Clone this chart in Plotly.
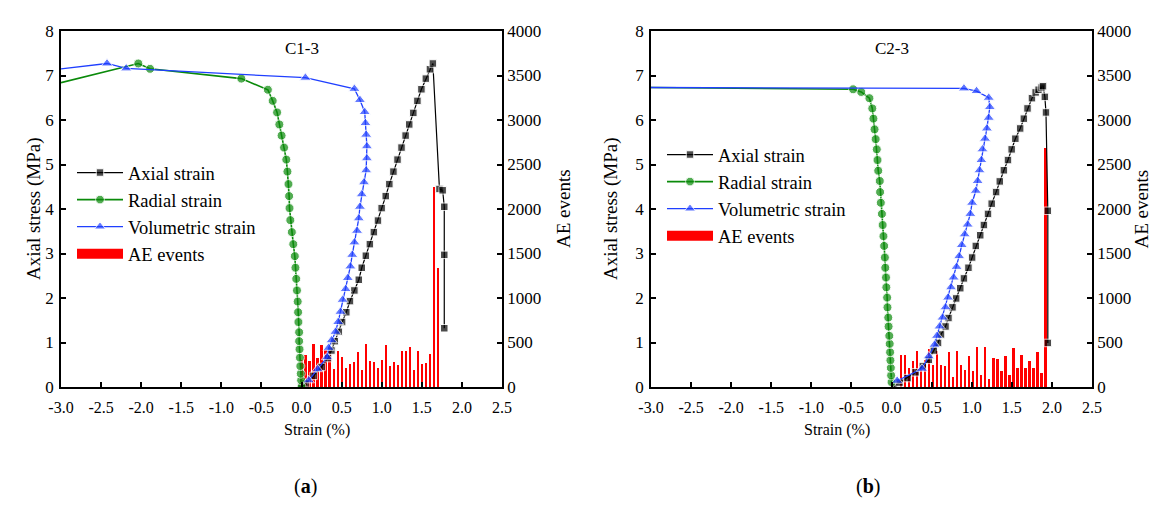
import plotly.graph_objects as go

# ---------------- data: panel (a) C1-3 ----------------
a_axial_x = [0.0, 0.05, 0.15, 0.25, 0.33, 0.373, 0.415, 0.465, 0.506, 0.558, 0.604, 0.659, 0.714, 0.751,
             0.802, 0.852, 0.902, 0.953, 0.999, 1.050, 1.095, 1.146, 1.197, 1.247, 1.298, 1.343, 1.394,
             1.445, 1.495, 1.550, 1.601, 1.638, 1.72, 1.76, 1.78, 1.78, 1.78]
a_axial_y = [0.0, 0.08, 0.25, 0.45, 0.65, 0.82, 1.03, 1.24, 1.46, 1.68, 1.93, 2.17, 2.41, 2.68,
             2.95, 3.21, 3.48, 3.74, 4.02, 4.29, 4.56, 4.84, 5.11, 5.38, 5.65, 5.90, 6.16,
             6.43, 6.69, 6.93, 7.14, 7.27, 4.45, 4.42, 4.05, 2.97, 1.32]

a_radial_x = [0.0, -0.005, -0.01, -0.015, -0.02, -0.025, -0.03, -0.03, -0.039, -0.043, -0.048, -0.057,
              -0.066, -0.076, -0.084, -0.103, -0.121, -0.14, -0.15, -0.155, -0.163, -0.176, -0.190,
              -0.218, -0.249, -0.277, -0.305, -0.360, -0.420, -0.751, -1.889, -2.036, -3.0]
a_radial_y = [0.0, 0.15, 0.30, 0.47, 0.66, 0.85, 1.03, 1.23, 1.46, 1.68, 1.92, 2.17,
              2.43, 2.68, 2.94, 3.21, 3.48, 3.75, 4.02, 4.29, 4.56, 4.84, 5.11,
              5.38, 5.65, 5.90, 6.17, 6.43, 6.68, 6.93, 7.15, 7.27, 6.84]

a_vol_x = [0.09, 0.2, 0.319, 0.338, 0.375, 0.423, 0.456, 0.485, 0.512, 0.550, 0.577, 0.609, 0.632,
           0.659, 0.692, 0.714, 0.728, 0.751, 0.779, 0.806, 0.815, 0.815, 0.806, 0.797, 0.788,
           0.728, 0.659, 0.048, -2.187, -2.426, -3.0]
a_vol_y = [0.15, 0.40, 0.67, 0.88, 1.05, 1.24, 1.46, 1.69, 1.96, 2.20, 2.45, 2.71, 2.97,
           3.25, 3.51, 3.79, 4.05, 4.33, 4.60, 4.87, 5.14, 5.41, 5.67, 5.93, 6.18,
           6.45, 6.70, 6.95, 7.16, 7.27, 7.15]

a_ae_x = [0.00, 0.05, 0.10, 0.15, 0.20, 0.25, 0.30, 0.35, 0.40, 0.45, 0.50, 0.55, 0.60, 0.65, 0.70,
          0.75, 0.80, 0.85, 0.90, 0.95, 1.00, 1.05, 1.10, 1.15, 1.20, 1.25, 1.30, 1.35, 1.40, 1.45,
          1.50, 1.55, 1.60, 1.65, 1.70]
a_ae = [308, 364, 289, 485, 327, 477, 421, 409, 203, 409, 334, 214, 259, 278, 391,
        195, 485, 297, 278, 214, 308, 477, 233, 278, 252, 402, 402, 447, 195, 409,
        259, 270, 373, 2242, 1341]

# ---------------- data: panel (b) C2-3 ----------------
b_axial_x = [0.03, 0.1, 0.2, 0.3, 0.39, 0.465, 0.527, 0.58, 0.617, 0.673, 0.710, 0.760, 0.806, 0.857,
             0.903, 0.959, 1.005, 1.051, 1.106, 1.152, 1.203, 1.249, 1.304, 1.350, 1.401, 1.452,
             1.498, 1.544, 1.604, 1.650, 1.696, 1.751, 1.797, 1.834, 1.871, 1.889, 1.912, 1.926,
             1.949, 1.949]
b_axial_y = [0.02, 0.1, 0.2, 0.33, 0.47, 0.61, 0.82, 0.99, 1.18, 1.36, 1.55, 1.79, 1.99, 2.22,
             2.44, 2.68, 2.91, 3.17, 3.41, 3.64, 3.89, 4.12, 4.38, 4.62, 4.87, 5.10,
             5.34, 5.58, 5.81, 6.03, 6.26, 6.49, 6.62, 6.68, 6.73, 6.76, 6.52, 6.17,
             3.96, 0.99]

b_radial_x = [0.0, -0.005, -0.009, -0.014, -0.018, -0.023, -0.028, -0.037, -0.041, -0.051, -0.055,
              -0.065, -0.069, -0.078, -0.083, -0.092, -0.101, -0.111, -0.12, -0.134, -0.143, -0.147,
              -0.166, -0.175, -0.184, -0.198, -0.212, -0.226, -0.240, -0.276, -0.378, -0.479, -3.0]
b_radial_y = [0.11, 0.26, 0.43, 0.60, 0.78, 0.97, 1.15, 1.36, 1.56, 1.79, 2.01,
              2.24, 2.46, 2.68, 2.91, 3.17, 3.39, 3.64, 3.89, 4.14, 4.38, 4.63,
              4.86, 5.10, 5.34, 5.57, 5.79, 6.03, 6.26, 6.49, 6.63, 6.69, 6.73]

b_vol_x = [0.07, 0.38, 0.465, 0.536, 0.567, 0.599, 0.636, 0.673, 0.705, 0.742, 0.774, 0.811, 0.843,
           0.876, 0.912, 0.949, 0.982, 1.005, 1.051, 1.074, 1.097, 1.12, 1.134, 1.166, 1.189, 1.212,
           1.226, 1.212, 1.06, 0.903, -3.0]
b_vol_y = [0.14, 0.41, 0.69, 0.95, 1.15, 1.36, 1.56, 1.79, 2.01, 2.24, 2.46, 2.70, 2.94,
           3.19, 3.43, 3.65, 3.89, 4.14, 4.41, 4.63, 4.87, 5.10, 5.34, 5.58, 5.81, 6.05,
           6.29, 6.50, 6.65, 6.71, 6.73]

b_ae_x = [0.12, 0.17, 0.22, 0.27, 0.32, 0.37, 0.42, 0.47, 0.52, 0.57, 0.62, 0.67, 0.72, 0.77, 0.82,
          0.87, 0.92, 0.97, 1.02, 1.07, 1.12, 1.17, 1.22, 1.27, 1.32, 1.37, 1.42, 1.47, 1.52, 1.57,
          1.62, 1.67, 1.72, 1.77, 1.82, 1.87, 1.92]
b_ae = [360, 360, 218, 291, 405, 190, 300, 425, 250, 400, 252, 233, 391, 113, 409,
        244, 195, 353, 184, 447, 131, 447, 94, 327, 319, 182, 349, 135, 435, 218,
        356, 218, 293, 210, 398, 153, 2690]

x_ticks = [-3.0, -2.5, -2.0, -1.5, -1.0, -0.5, 0.0, 0.5, 1.0, 1.5, 2.0, 2.5]
panel_titles = ["C1-3", "C2-3"]
panel_labels = ["a", "b"]

# ---------------- styling ----------------
W, H = 1161, 508
FONT = "Liberation Serif"
BLACK, GREEN, BLUE, RED = "#000000", "#0a8a0a", "#1f3fff", "#ff0000"


def px_x(p):
    return p / W


def px_y(p):
    return 1 - p / H


dom_y = [px_y(379), px_y(23)]
dom_a = [px_x(53), px_x(494)]
dom_b = [px_x(643), px_x(1084)]


def msizes(xs, s):
    return [0 if x <= -3.0 else s for x in xs]


fig = go.Figure()

panels = [
    dict(xa="x", ya_ae="y", ya_s="y2", leg="legend", ax=a_axial_x, ay=a_axial_y, rx=a_radial_x, ry=a_radial_y,
         vx=a_vol_x, vy=a_vol_y, ex=a_ae_x, ey=a_ae),
    dict(xa="x2", ya_ae="y3", ya_s="y4", leg="legend2", ax=b_axial_x, ay=b_axial_y, rx=b_radial_x, ry=b_radial_y,
         vx=b_vol_x, vy=b_vol_y, ex=b_ae_x, ey=b_ae),
]

for p in panels:
    fig.add_trace(go.Bar(x=p["ex"], y=p["ey"], width=0.028, marker=dict(color=RED, line=dict(width=0)),
                         name="AE events", showlegend=False,
                         xaxis=p["xa"], yaxis=p["ya_ae"]))
    fig.add_trace(go.Scatter(x=p["ax"], y=p["ay"], mode="lines+markers", name="Axial strain",
                             line=dict(color=BLACK, width=1.2),
                             marker=dict(symbol="square", size=msizes(p["ax"], 7.5), color=BLACK),
                             xaxis=p["xa"], yaxis=p["ya_s"], legend=p["leg"], legendrank=1))
    fig.add_trace(go.Scatter(x=p["rx"], y=p["ry"], mode="lines+markers", name="Radial strain",
                             line=dict(color=GREEN, width=1.6),
                             marker=dict(symbol="circle", size=msizes(p["rx"], 9), color=GREEN),
                             xaxis=p["xa"], yaxis=p["ya_s"], legend=p["leg"], legendrank=2))
    fig.add_trace(go.Scatter(x=p["vx"], y=p["vy"], mode="lines+markers", name="Volumetric strain",
                             line=dict(color=BLUE, width=1.3),
                             marker=dict(symbol="triangle-up", size=msizes(p["vx"], 10), color=BLUE),
                             xaxis=p["xa"], yaxis=p["ya_s"], legend=p["leg"], legendrank=3))
    # legend entry for the AE bars (wide red block like the reference)
    fig.add_trace(go.Scatter(x=[None], y=[None], mode="lines", name="AE events",
                             line=dict(color=RED, width=12),
                             xaxis=p["xa"], yaxis=p["ya_s"], legend=p["leg"], legendrank=4))

axis_common = dict(showline=True, linecolor="black", linewidth=1.8, ticks="inside", ticklen=5,
                   tickwidth=1.5, tickcolor="black", showgrid=False, zeroline=False, automargin=False,
                   tickfont=dict(family=FONT, size=17, color="black"))

x_common = dict(axis_common, range=[-3.0, 2.5], tickvals=x_ticks,
                ticktext=[f"{v:.1f}" for v in x_ticks], mirror=True, ticklabelstandoff=5,
                tickfont=dict(family=FONT, size=16, color="black"))

y_left = dict(axis_common, range=[0, 8], dtick=1, side="left", ticklabelstandoff=2)

leg_common = dict(xanchor="left", yanchor="top", bgcolor="rgba(0,0,0,0)",
                  font=dict(family=FONT, size=18.5, color="black"), tracegroupgap=0, itemwidth=46)

fig.update_layout(
    width=W, height=H, margin=dict(l=0, r=0, t=0, b=0, pad=0),
    paper_bgcolor="white", plot_bgcolor="white", barmode="overlay", bargap=0,
    xaxis=dict(x_common, domain=dom_a, anchor="y"),
    xaxis2=dict(x_common, domain=dom_b, anchor="y3"),
    yaxis=dict(axis_common, domain=dom_y, range=[0, 4000], dtick=500, side="right", anchor="x"),
    yaxis2=dict(y_left, overlaying="y", anchor="x"),
    yaxis3=dict(axis_common, domain=dom_y, range=[0, 4000], dtick=500, side="right", anchor="x2"),
    yaxis4=dict(y_left, overlaying="y3", anchor="x2"),
    legend=dict(leg_common, x=px_x(64), y=px_y(146)),
    legend2=dict(leg_common, x=px_x(654), y=px_y(128)),
)

ann_font = dict(family=FONT, size=19, color="black")
annotations = []
for i, (xa, ya, left_px, right_px) in enumerate([("x", "y2", 53, 494), ("x2", "y4", 643, 1084)]):
    annotations.append(dict(x=0.0, y=7.6, xref=xa, yref=ya, text=panel_titles[i], showarrow=False,
                            font=dict(family=FONT, size=17, color="black")))
    cx = (left_px + right_px) / 2
    annotations.append(dict(x=px_x(cx), y=px_y(433), xref="paper", yref="paper", text="Strain (%)",
                            showarrow=False, font=dict(family=FONT, size=16, color="black")))
    annotations.append(dict(x=px_x(left_px - 40), y=(dom_y[0] + dom_y[1]) / 2, xref="paper", yref="paper",
                            text="Axial stress (MPa)", textangle=-90, showarrow=False, font=ann_font))
    annotations.append(dict(x=px_x(right_px + 62), y=(dom_y[0] + dom_y[1]) / 2, xref="paper", yref="paper",
                            text="AE events", textangle=-90, showarrow=False, font=ann_font))
    annotations.append(dict(x=px_x(cx + 10), y=px_y(492), xref="paper", yref="paper",
                            text=f"(<b>{panel_labels[i]}</b>)", showarrow=False,
                            font=dict(family=FONT, size=20, color="black")))
fig.update_layout(annotations=annotations)

fig.write_html("out.html")
